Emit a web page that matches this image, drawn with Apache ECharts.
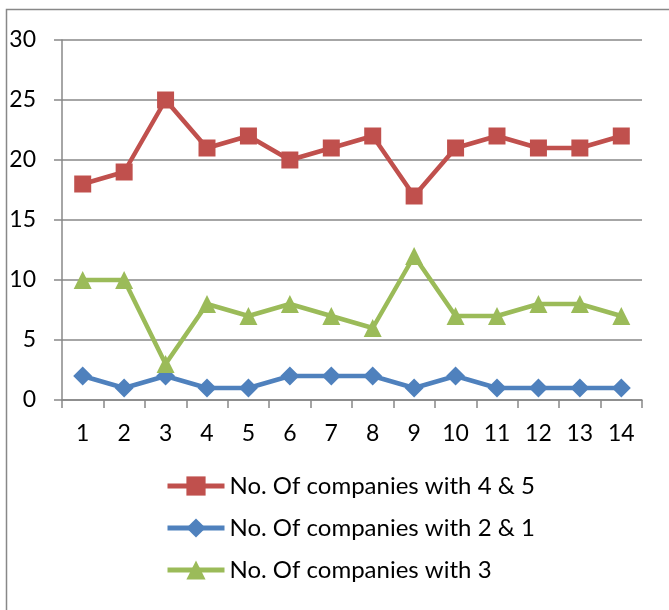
<!DOCTYPE html>
<html><head><meta charset="utf-8">
<script src="https://cdn.jsdelivr.net/npm/echarts@6/dist/echarts.min.js"></script>
<style>html,body{margin:0;padding:0;background:#fff}#c{width:669px;height:610px}</style>
</head><body><div id="c"></div>
<script>
const categories = ['1','2','3','4','5','6','7','8','9','10','11','12','13','14'];
const high = [18,19,25,21,22,20,21,22,17,21,22,21,21,22];
const low = [2,1,2,1,1,2,2,2,1,2,1,1,1,1];
const mid = [10,10,3,8,7,8,7,6,12,7,7,8,8,7];
const names = ['No. Of companies with 4 & 5','No. Of companies with 2 & 1','No. Of companies with 3'];
const font = 'Lato, "Open Sans", sans-serif';
const chart = echarts.init(document.getElementById('c'));
chart.setOption({
  animation:false,
  graphic:[{type:'rect',shape:{x:6.5,y:9.5,width:700,height:700},style:{fill:'none',stroke:'#888',lineWidth:1.5},silent:true}],
  grid:{left:62,right:27,top:40,bottom:210},
  legend:{orient:'vertical',left:160,top:469,itemWidth:57,itemHeight:24,itemGap:18,
    lineStyle:{width:5},
    textStyle:{fontSize:24,fontFamily:font,color:'#000'},data:names},
  xAxis:{type:'category',data:categories,boundaryGap:true,
    axisLine:{lineStyle:{color:'#888',width:1.5}},
    axisTick:{show:true,length:8,lineStyle:{color:'#888',width:1.5}},
    axisLabel:{fontSize:23,fontFamily:font,color:'#000',margin:22}},
  yAxis:{type:'value',min:0,max:30,interval:5,
    axisLine:{show:true,lineStyle:{color:'#888',width:1.5}},
    axisTick:{show:true,length:8,lineStyle:{color:'#888',width:1.5}},
    splitLine:{lineStyle:{color:'#888',width:1.5}},
    axisLabel:{fontSize:23,fontFamily:font,color:'#000',margin:26}},
  series:[
    {name:names[0],type:'line',data:high,symbol:'rect',symbolSize:17,color:'#C0504D',lineStyle:{width:4.5}},
    {name:names[1],type:'line',data:low,symbol:'diamond',symbolSize:19,color:'#4F81BD',lineStyle:{width:4.5}},
    {name:names[2],type:'line',data:mid,symbol:'triangle',symbolSize:18,color:'#9BBB59',lineStyle:{width:4.5}}
  ]
});
</script></body></html>
